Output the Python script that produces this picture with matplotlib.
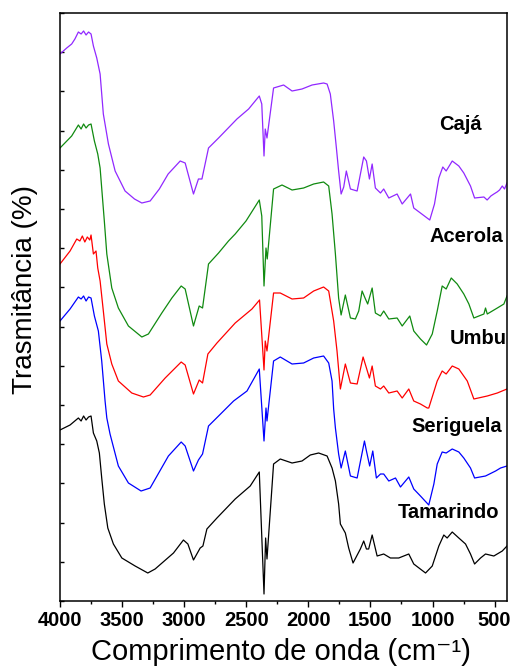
import numpy as np
import matplotlib
matplotlib.use('Agg')
import matplotlib.pyplot as plt
from matplotlib.ticker import MultipleLocator

# FTIR spectra, values (arbitrary transmittance units, curves already offset)
caja_wn = [4000, 3946, 3906, 3880, 3852, 3830, 3810, 3790, 3770, 3750, 3731, 3704, 3677, 3651, 3610,
           3556, 3476, 3400, 3341, 3274, 3200, 3129, 3032, 2992, 2925, 2885, 2857, 2804, 2723, 2575,
           2481, 2395, 2375, 2357, 2347, 2333, 2280, 2199, 2131, 2051, 1970, 1877, 1849, 1823, 1796,
           1774, 1756, 1736, 1715, 1694, 1661, 1607, 1554, 1532, 1508, 1486, 1460, 1419, 1393, 1352,
           1285, 1244, 1177, 1151, 1097, 1022, 984, 949, 917, 890, 841, 788, 748, 694, 661,
           586, 560, 530, 506, 480, 460, 438, 420, 400]
caja_t = [547, 553, 557, 562, 569, 567, 570, 566, 569, 567, 555, 543, 527, 487, 457,
          430, 410, 402, 398, 400, 412, 427, 440, 438, 407, 422, 422, 453, 463, 482,
          492, 505, 497, 445, 472, 463, 513, 516, 510, 512, 516, 518, 517, 507, 480,
          453, 430, 407, 414, 430, 412, 410, 444, 440, 422, 437, 413, 408, 412, 403,
          407, 397, 407, 393, 388, 381, 397, 423, 434, 430, 440, 435, 428, 415, 403,
          404, 401, 405, 407, 409, 411, 415, 412, 418]

acerola_wn = [4000, 3906, 3852, 3830, 3810, 3790, 3770, 3750, 3723, 3696, 3677, 3643, 3623, 3583, 3530,
              3449, 3341, 3288, 3180, 3099, 3024, 2992, 2925, 2879, 2852, 2804, 2723, 2643, 2589, 2502,
              2395, 2375, 2357, 2341, 2331, 2280, 2212, 2131, 2038, 1957, 1877, 1836, 1809, 1782, 1756,
              1736, 1702, 1661, 1621, 1594, 1567, 1540, 1522, 1486, 1460, 1419, 1393, 1352, 1285, 1244,
              1183, 1151, 1097, 1048, 1002, 962, 922, 890, 849, 801, 748, 707, 667, 586, 573,
              559, 478, 425, 400]
acerola_t = [453, 465, 476, 472, 477, 473, 476, 477, 460, 447, 433, 380, 347, 313, 293,
             275, 264, 267, 288, 303, 315, 312, 275, 295, 293, 337, 348, 360, 367, 380,
             401, 385, 315, 353, 342, 412, 416, 411, 413, 417, 419, 415, 387, 347, 303,
             286, 306, 283, 282, 290, 310, 302, 297, 313, 288, 285, 290, 282, 283, 275,
             285, 270, 262, 256, 267, 290, 315, 312, 323, 317, 307, 297, 283, 287, 293,
             287, 293, 297, 305]

umbu_wn = [4000, 3919, 3865, 3840, 3820, 3800, 3780, 3760, 3750, 3731, 3710, 3696, 3677, 3651, 3623,
           3583, 3530, 3422, 3328, 3274, 3153, 3024, 2992, 2925, 2879, 2852, 2809, 2736, 2589, 2454,
           2393, 2357, 2347, 2333, 2280, 2226, 2131, 2038, 1957, 1877, 1836, 1796, 1769, 1742, 1702,
           1661, 1607, 1559, 1532, 1508, 1486, 1460, 1419, 1393, 1352, 1285, 1244, 1191, 1151, 1097,
           1042, 1030, 962, 922, 890, 841, 788, 720, 667, 559, 478, 400]
umbu_t = [337, 350, 362, 360, 365, 359, 364, 361, 366, 347, 350, 333, 320, 290, 257,
          237, 220, 208, 204, 206, 223, 239, 236, 207, 221, 218, 247, 258, 278, 292,
          301, 231, 260, 250, 308, 308, 302, 303, 310, 314, 310, 280, 250, 212, 237,
          218, 217, 244, 233, 223, 235, 215, 212, 215, 208, 210, 203, 212, 200, 197,
          193, 193, 220, 230, 227, 235, 232, 220, 202, 205, 208, 212]

seriguela_wn = [4000, 3919, 3852, 3830, 3810, 3790, 3770, 3750, 3723, 3691, 3664, 3637, 3623, 3597, 3530,
                3449, 3347, 3274, 3127, 3024, 2992, 2925, 2885, 2852, 2804, 2723, 2602, 2494, 2395, 2357,
                2341, 2333, 2280, 2226, 2131, 2038, 1957, 1877, 1836, 1809, 1796, 1782, 1756, 1736, 1702,
                1661, 1607, 1548, 1532, 1506, 1481, 1452, 1419, 1393, 1352, 1298, 1258, 1191, 1151, 1097,
                1030, 989, 962, 922, 890, 841, 788, 748, 694, 661, 573, 492, 452, 400]
seriguela_t = [280, 292, 304, 302, 305, 300, 304, 303, 285, 270, 240, 200, 183, 167, 135,
               118, 110, 113, 145, 159, 155, 130, 141, 147, 175, 185, 200, 210, 232, 160,
               193, 180, 240, 244, 237, 238, 243, 245, 238, 220, 192, 173, 147, 133, 150,
               125, 123, 160, 150, 135, 150, 123, 127, 127, 120, 123, 114, 124, 112, 105,
               96, 117, 137, 149, 148, 152, 149, 143, 133, 123, 125, 130, 133, 135]

tamarindo_wn = [4000, 3919, 3852, 3830, 3810, 3790, 3770, 3750, 3731, 3704, 3683, 3664, 3643, 3615, 3570,
                3502, 3395, 3293, 3234, 3086, 3006, 2970, 2925, 2871, 2849, 2817, 2736, 2589, 2468, 2395,
                2357, 2344, 2333, 2280, 2226, 2131, 2051, 1984, 1917, 1849, 1809, 1782, 1756, 1742, 1702,
                1675, 1640, 1581, 1554, 1532, 1514, 1486, 1446, 1393, 1339, 1272, 1191, 1151, 1056, 1002,
                949, 909, 882, 841, 788, 734, 694, 661, 613, 573, 506, 438, 400]
tamarindo_t = [171, 176, 183, 180, 185, 181, 184, 185, 168, 160, 148, 123, 97, 73, 57,
               43, 35, 28, 32, 48, 61, 57, 41, 53, 55, 72, 83, 102, 115, 129,
               7, 63, 42, 137, 142, 138, 140, 146, 148, 145, 133, 120, 97, 77, 68,
               53, 38, 52, 60, 52, 52, 66, 45, 47, 43, 43, 47, 37, 28, 35,
               55, 66, 63, 69, 63, 57, 47, 37, 43, 47, 45, 50, 55]

names = ['Cajá', 'Acerola', 'Umbu', 'Seriguela', 'Tamarindo']
colors = ['#9128ff', '#108a10', '#ff0000', '#0000ff', '#000000']
label_wn = [774, 730, 629, 806, 875]
label_t = [477, 365, 263, 175, 89]

spectra = [(caja_wn, caja_t), (acerola_wn, acerola_t), (umbu_wn, umbu_t),
           (seriguela_wn, seriguela_t), (tamarindo_wn, tamarindo_t)]

fig = plt.figure(figsize=(5.16, 6.70), dpi=100)
ax = fig.add_axes([60/516, 1 - 601/670, 447/516, 588/670])

for (wn, t), c in zip(spectra, colors):
    ax.plot(wn, t, color=c, lw=0.9)

for name, x, y in zip(names, label_wn, label_t):
    ax.text(x, y, name, ha='center', va='center', fontsize=14.5, fontweight='bold',
            family='Liberation Sans')

ax.set_xlim(4000, 400)
ax.set_ylim(0, 588)
ax.xaxis.set_major_locator(MultipleLocator(500))
ax.xaxis.set_minor_locator(MultipleLocator(250))
ax.yaxis.set_major_locator(MultipleLocator(39.2))
ax.tick_params(axis='x', which='major', direction='out', length=4, width=1)
ax.tick_params(axis='x', which='minor', direction='out', length=2.5, width=1)
ax.tick_params(axis='y', direction='in', length=3, width=1, labelleft=False)
for lab in ax.get_xticklabels():
    lab.set_fontsize(14.5)
    lab.set_fontweight('bold')
    lab.set_family('Liberation Sans')
for s in ax.spines.values():
    s.set_linewidth(1.1)

ax.set_xlabel('Comprimento de onda (cm\u207b\u00b9)', fontsize=21,
              family=['Liberation Sans', 'DejaVu Sans'])
ax.xaxis.set_label_coords(0.494, -0.063)
ax.set_ylabel('Trasmitância (%)', fontsize=20, family='Liberation Sans')
ax.yaxis.set_label_coords(-0.05, 0.53)

fig.savefig('out.png', dpi=100)
